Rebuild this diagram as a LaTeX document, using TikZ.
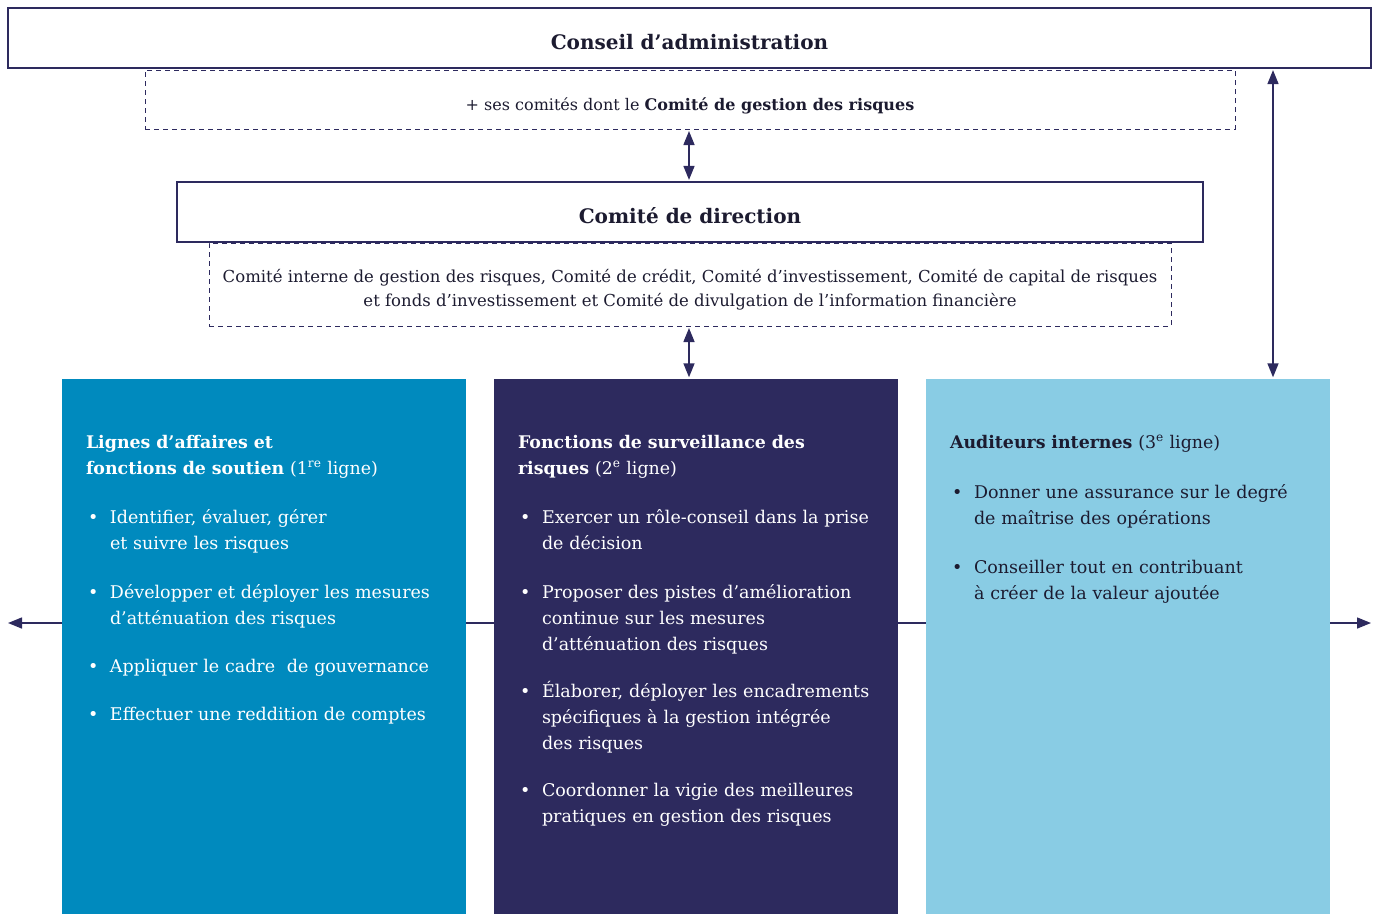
\documentclass[tikz,border=0pt]{standalone}
\usepackage{fontspec}
\setmainfont{DejaVu Serif}
\usetikzlibrary{positioning,arrows.meta}
\definecolor{marine}{RGB}{45,42,94}
\definecolor{bleu}{RGB}{0,138,190}
\definecolor{ciel}{RGB}{137,204,228}
\definecolor{encre}{RGB}{28,27,48}
\newcommand\puce{\hangindent=24pt\hangafter=1\noindent\makebox[24pt][l]{\hspace{2pt}\textbullet}\strut}

\begin{document}
\begin{tikzpicture}[x=1pt,y=-1pt,
  cadre/.style={draw=marine, line width=1.2pt, minimum width=#1, minimum height=60pt,
    inner sep=0pt, text height=22pt, text depth=0pt, text=encre,
    font=\fontsize{20}{26}\selectfont\bfseries},
  pointille/.style={draw=marine, line width=1pt, dashed, dash pattern=on 5pt off 4pt,
    minimum width=#1, inner sep=0pt, text depth=0pt, text=encre, align=center},
  colonne/.style={minimum width=404pt, minimum height=535pt, inner sep=0pt},
  titre/.style={inner sep=0pt, text width=370pt, anchor=north west,
    font=\fontsize{17.4}{26}\selectfont},
  puce/.style={inner sep=0pt, text width=370pt, font=\fontsize{17.5}{26}\selectfont},
  fleche/.style={draw=marine, line width=1.5pt,
    {Triangle[length=14pt,width=11pt]}-{Triangle[length=14pt,width=11pt]}}]
  \useasboundingbox (0,0) rectangle (1379,914);

  % conseil et direction
  \node[cadre=1363pt] (conseil) at (689.5,38) {Conseil d’administration};
  \node[pointille=1090pt, minimum height=59pt, text height=21pt,
    font=\fontsize{16}{24}\selectfont] (comitesca) at (690,99.5)
    {+ ses comités dont le \textbf{Comité de gestion des risques}};
  \node[cadre=1026pt] (direction) at (690,212) {Comité de direction};
  \node[pointille=962pt, minimum height=83pt, text height=43pt,
    font=\fontsize{16.5}{24}\selectfont] (comitesdir) at (690,284.5)
    {Comité interne de gestion des risques, Comité de crédit, Comité d’investissement, Comité de capital de risques\\
     et fonds d’investissement et Comité de divulgation de l’information financière};

  % ligne horizontale derriere les colonnes
  \coordinate (gauche) at (8,623);
  \coordinate (droite) at (1371,623);
  \draw[fleche] (gauche) -- (droite);

  % les trois lignes
  \node[colonne, fill=bleu] (col1) at (264,646.5) {};
  \node[colonne, fill=marine] (col2) at (696,646.5) {};
  \node[colonne, fill=ciel] (col3) at (1128,646.5) {};

  \draw[fleche, shorten <=1.5pt, shorten >=1.5pt] (comitesca.south -| 689,0) -- (direction.north -| 689,0);
  \draw[fleche, shorten <=1.5pt, shorten >=1.5pt] (comitesdir.south -| 689,0) -- (col2.north -| 689,0);
  \coordinate (axe) at (1273,0);
  \draw[fleche, shorten <=1.5pt, shorten >=1.5pt] (conseil.south -| axe) -- (col3.north -| axe);

  % 1re ligne
  \node[titre, text=white] (t1) at ([shift={(24,51)}]col1.north west)
    {\strut\textbf{Lignes d’affaires et}\newline\textbf{fonctions de soutien} (1\textsuperscript{re} ligne)\strut};
  \node[puce, text=white, below right=23pt and 0pt of t1.south west] (p11)
    {\puce Identifier, évaluer, gérer\newline et suivre les risques\strut\par};
  \node[puce, text=white, below right=22pt and 0pt of p11.south west] (p12)
    {\puce Développer et déployer les mesures\newline d’atténuation des risques\strut\par};
  \node[puce, text=white, below right=22pt and 0pt of p12.south west] (p13)
    {\puce Appliquer le cadre~ de gouvernance\strut\par};
  \node[puce, text=white, below right=22pt and 0pt of p13.south west] (p14)
    {\puce Effectuer une reddition de comptes\strut\par};

  % 2e ligne
  \node[titre, text=white] (t2) at ([shift={(24,51)}]col2.north west)
    {\strut\textbf{Fonctions de surveillance des}\newline\textbf{risques} (2\textsuperscript{e} ligne)\strut};
  \node[puce, text=white, below right=23pt and 0pt of t2.south west] (p21)
    {\puce Exercer un rôle-conseil dans la prise\newline de décision\strut\par};
  \node[puce, text=white, below right=22pt and 0pt of p21.south west] (p22)
    {\puce Proposer des pistes d’amélioration\newline continue sur les mesures\newline d’atténuation des risques\strut\par};
  \node[puce, text=white, below right=21pt and 0pt of p22.south west] (p23)
    {\puce Élaborer, déployer les encadrements\newline spécifiques à la gestion intégrée\newline des risques\strut\par};
  \node[puce, text=white, below right=21pt and 0pt of p23.south west] (p24)
    {\puce Coordonner la vigie des meilleures\newline pratiques en gestion des risques\strut\par};

  % 3e ligne
  \node[titre, text=encre] (t3) at ([shift={(24,51)}]col3.north west)
    {\strut\textbf{Auditeurs internes} (3\textsuperscript{e} ligne)\strut};
  \node[puce, text=encre, below right=24pt and 0pt of t3.south west] (p31)
    {\puce Donner une assurance sur le degré\newline de maîtrise des opérations\strut\par};
  \node[puce, text=encre, below right=22pt and 0pt of p31.south west] (p32)
    {\puce Conseiller tout en contribuant\newline à créer de la valeur ajoutée\strut\par};
\end{tikzpicture}
\end{document}
